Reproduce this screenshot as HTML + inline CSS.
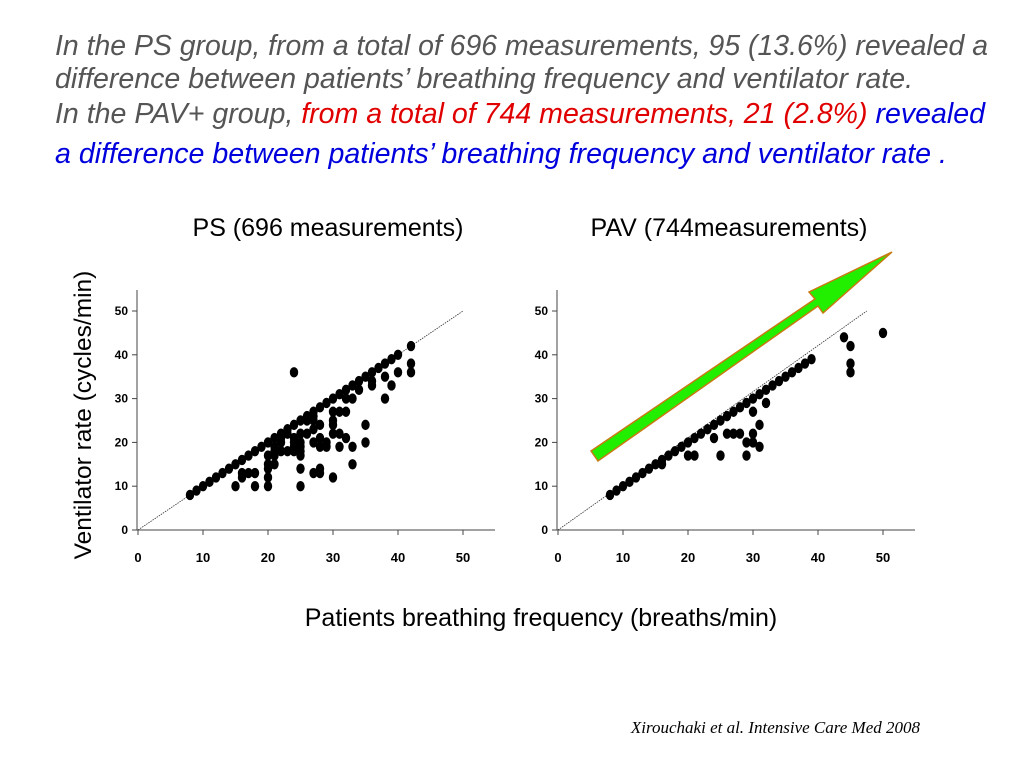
<!DOCTYPE html>
<html><head><meta charset="utf-8"><style>
body{margin:0;background:#fff}
svg{display:block}
text{font-family:"Liberation Sans",sans-serif}
</style></head><body>
<svg id="root" width="1024" height="768" viewBox="0 0 1024 768">
<g font-style="italic" font-size="29">
<text x="55" y="55" fill="#555" textLength="933" lengthAdjust="spacingAndGlyphs">In the PS group, from a total of 696 measurements, 95 (13.6%) revealed a</text>
<text x="55" y="88" fill="#555" textLength="858" lengthAdjust="spacingAndGlyphs">difference between patients’ breathing frequency and ventilator rate.</text>
<text x="55" y="123" textLength="930" lengthAdjust="spacingAndGlyphs"><tspan fill="#555">In the PAV+ group, </tspan><tspan fill="#e00000">from a total of 744 measurements, 21 (2.8%)</tspan><tspan fill="#0000dd"> revealed</tspan></text>
<text x="55" y="163" fill="#0000dd" textLength="892" lengthAdjust="spacingAndGlyphs">a difference between patients’ breathing frequency and ventilator rate .</text>
</g>
<text x="328" y="236" font-size="25" text-anchor="middle">PS (696 measurements)</text>
<text x="729" y="236" font-size="25" text-anchor="middle">PAV (744measurements)</text>
<text transform="translate(91,415) rotate(-90)" font-size="24.5" text-anchor="middle">Ventilator rate (cycles/min)</text>
<text x="541" y="626" font-size="25" text-anchor="middle">Patients breathing frequency (breaths/min)</text>
<text x="920" y="733" font-size="17" font-style="italic" text-anchor="end" style="font-family:'Liberation Serif',serif">Xirouchaki et al. Intensive Care Med 2008</text>
<polygon points="591,451 815,299 809,292 892,252 823,313 818,306 598,461" fill="#22ee00" stroke="#c87a10" stroke-width="1.5"/>
<g id="ps"></g>
<g id="pav"></g>
</svg>
<script>
const ticks=[0,10,20,30,40,50];
const psDiagX=[8,9,10,11,12,13,14,15,16,17,18,19,20,21,22,23,24,25,26,27,28,29,30,31,32,33,34,35,36,37,38,39,40,42];
const psOffX=[24,42,42,40,39,38,38,36,36,35,35,34,33,33,33,32,32,32,31,31,31,30,30,30,30,30,29,29,28,28,28,28,28,27,27,27,27,27,26,26,25,25,25,25,25,25,25,24,24,24,24,23,23,22,22,22,21,21,21,21,20,20,20,20,20,18,18,17,16,16,15];
const psOffY=[36,38,36,36,33,35,30,34,33,24,20,32,30,19,15,30,27,21,27,22,19,27,25,24,22,12,20,19,24,21,19,14,13,26,25,23,20,13,25,22,22,20,19,18,17,14,10,21,20,19,18,18,22,18,20,21,19,18,15,17,17,15,14,12,10,13,10,13,13,12,10];
const pavDiagX=[8,9,10,11,12,13,14,15,16,17,18,19,20,21,22,23,24,25,26,27,28,29,30,31,32,33,34,35,36,37,38,39];
const pavOffX=[16,20,21,24,25,26,27,28,29,29,30,30,30,31,31,32,44,45,45,45,50];
const pavOffY=[15,17,17,21,17,22,22,22,20,17,27,22,20,24,19,29,44,42,38,36,45];
const NS='http://www.w3.org/2000/svg';
function mk(p,t,a){const e=document.createElementNS(NS,t);for(const k in a)e.setAttribute(k,a[k]);p.appendChild(e);return e;}
function chart(g,x0,diagX,offX,offY,lineEnd,name){
 const sx=v=>x0+1+v*6.5, sy=v=>530-v*4.38;
 let e=mk(g,'line',{x1:x0,y1:530,x2:x0+358,y2:530,stroke:'#444'});
 
 e=mk(g,'line',{x1:x0,y1:290,x2:x0,y2:530,stroke:'#444'});
 
 ticks.forEach(t=>{
  mk(g,'line',{x1:sx(t),y1:530,x2:sx(t),y2:535,stroke:'#444'});
  e=mk(g,'text',{x:sx(t),y:562,'font-size':13,'font-weight':'bold','text-anchor':'middle'});e.textContent=t;
  
  mk(g,'line',{x1:x0-5,y1:sy(t),x2:x0,y2:sy(t),stroke:'#444'});
  e=mk(g,'text',{x:x0-9,y:sy(t)+4,'font-size':12,'font-weight':'bold','text-anchor':'end'});e.textContent=t;
  
 });
 e=mk(g,'line',{x1:sx(0),y1:sy(0),x2:sx(lineEnd),y2:sy(50),stroke:'#333','stroke-width':0.8,'stroke-dasharray':'1.5,1'});
 
 diagX.forEach(v=>{e=mk(g,'ellipse',{cx:sx(v),cy:sy(v),rx:4.2,ry:5.2,fill:'#000'});
  });
 offX.forEach((v,i)=>{e=mk(g,'ellipse',{cx:sx(v),cy:sy(offY[i]),rx:4.2,ry:5.2,fill:'#000'});
  });
}
chart(document.getElementById('ps'),137,psDiagX,psOffX,psOffY,50,'ps');
chart(document.getElementById('pav'),557,pavDiagX,pavOffX,pavOffY,47.5,'pav');
</script>
</body></html>
